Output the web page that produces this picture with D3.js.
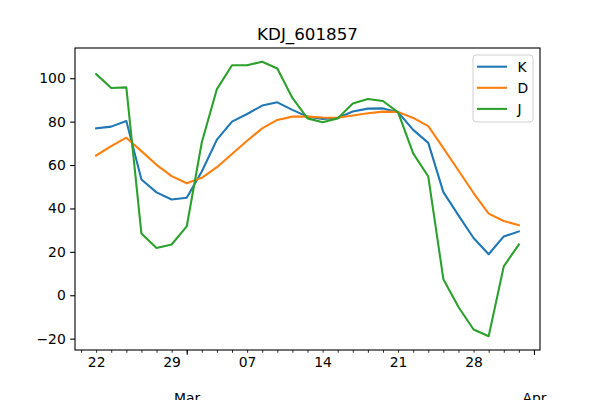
<!DOCTYPE html>
<html>
<head>
<meta charset="utf-8">
<script src="https://cdn.jsdelivr.net/npm/d3@7"></script>
<style>
  html, body { margin: 0; padding: 0; background: #fff; }
  svg { display: block; font-family: "DejaVu Sans", sans-serif; }
  .axis path, .axis line { stroke: #000; }
  .axis text { fill: #000; font-size: 13.9px; font-family: "DejaVu Sans", sans-serif; }
</style>
</head>
<body>
<div id="chart"></div>
<script>
// trading day index for each point
var days = d3.range(0, 29);

var kValues = [76.9, 77.7, 80.3, 53.3, 47.4, 44.1, 44.9, 57.0, 71.7, 80.0,
  83.5, 87.4, 88.9, 85.4, 82.3, 81.2, 81.7, 84.7, 86.0, 86.1,
  84.3, 76.2, 70.2, 47.5, 36.8, 26.4, 18.9, 27.1, 29.4];
var dValues = [64.4, 68.7, 72.6, 66.4, 60.1, 54.9, 51.6, 54.1, 59.0, 65.1,
  71.2, 76.9, 80.8, 82.3, 82.3, 81.9, 81.8, 82.8, 83.9, 84.6,
  84.5, 81.7, 77.9, 67.8, 57.5, 47.1, 37.6, 34.2, 32.3];
var jValues = [101.9, 95.5, 95.8, 28.4, 21.8, 23.4, 31.7, 70.5, 95.0, 106.0,
  106.0, 107.6, 104.5, 90.9, 81.5, 79.7, 81.5, 88.4, 90.4, 89.5,
  84.3, 65.4, 54.7, 7.4, -5.4, -15.8, -18.9, 13.3, 23.4];

var seriesNames = ['K', 'D', 'J'];

// day-of-month labels (minor ticks) and month labels (major ticks)
var dayTicks = [0, 5, 10, 15, 20, 25];
var dayLabels = ['22', '29', '07', '14', '21', '28'];
var monthTicks = [6, 29];
var monthLabels = ['Mar', 'Apr'];

var yTicks = [-20, 0, 20, 40, 60, 80, 100];

var title = 'KDJ_601857';

var width = 600, height = 400;
var margin = {top: 48, right: 60, bottom: 50, left: 75};
var colors = ['#1f77b4', '#ff7f0e', '#2ca02c'];
var seriesValues = [kValues, dValues, jValues];

var svg = d3.select('#chart').append('svg')
  .attr('width', width)
  .attr('height', height);

// matplotlib style 5% margins on both axes
var xMin = d3.min(days), xMax = d3.max(days);
var xPad = (xMax - xMin) * 0.05;
var allVals = kValues.concat(dValues, jValues);
var yMin = d3.min(allVals), yMax = d3.max(allVals);
var yPad = (yMax - yMin) * 0.05;

var x = d3.scaleLinear()
  .domain([xMin - xPad, xMax + xPad])
  .range([margin.left, width - margin.right]);
var y = d3.scaleLinear()
  .domain([yMin - yPad, yMax + yPad])
  .range([height - margin.bottom, margin.top]);

var plotBottom = height - margin.bottom;

// lines
var line = d3.line()
  .x(function (d, i) { return x(days[i]); })
  .y(function (d) { return y(d); });

seriesValues.forEach(function (vals, k) {
  svg.append('path')
    .datum(vals)
    .attr('fill', 'none')
    .attr('stroke', colors[k])
    .attr('stroke-width', 2.08)
    .attr('stroke-linejoin', 'round')
    .attr('stroke-linecap', 'square')
    .attr('d', line);
});

// y axis
var yAxis = svg.append('g')
  .attr('class', 'axis')
  .attr('transform', 'translate(' + margin.left + ',0)')
  .call(d3.axisLeft(y).tickValues(yTicks).tickSize(4.86).tickPadding(4.4).tickSizeOuter(0));
yAxis.select('.domain').remove();
yAxis.selectAll('line').attr('stroke-width', 1.1);

// minor x ticks, one per trading day, some with day labels
var minorTicks = d3.range(-1, 29);
var xMinor = svg.append('g')
  .attr('class', 'axis')
  .attr('transform', 'translate(0,' + plotBottom + ')')
  .call(d3.axisBottom(x).tickValues(minorTicks).tickSize(2.78).tickPadding(4.7)
    .tickFormat(function (d) {
      var idx = dayTicks.indexOf(d);
      return idx >= 0 ? dayLabels[idx] : '';
    }));
xMinor.select('.domain').remove();
xMinor.selectAll('line').attr('stroke-width', 0.83);
xMinor.selectAll('text').attr('dy', '0.71em');

// month ticks, labels pushed two lines down (partly off the bottom, as in the source)
var xMajor = svg.append('g')
  .attr('class', 'axis')
  .attr('transform', 'translate(0,' + plotBottom + ')')
  .call(d3.axisBottom(x).tickValues(monthTicks).tickSize(4.86).tickPadding(38.4)
    .tickFormat(function (d, i) { return monthLabels[i]; }));
xMajor.select('.domain').remove();
xMajor.selectAll('line').attr('stroke-width', 1.1);
xMajor.selectAll('text').attr('dy', '0.71em');

// frame
svg.append('rect')
  .attr('x', margin.left)
  .attr('y', margin.top)
  .attr('width', width - margin.left - margin.right)
  .attr('height', plotBottom - margin.top)
  .attr('fill', 'none')
  .attr('stroke', '#000')
  .attr('stroke-width', 1.1);

// title
svg.append('text')
  .attr('x', (margin.left + width - margin.right) / 2)
  .attr('y', 40)
  .attr('text-anchor', 'middle')
  .style('font-size', '16.7px')
  .text(title);

// legend
var legend = svg.append('g').attr('transform', 'translate(473,55)');
legend.append('rect')
  .attr('width', 60)
  .attr('height', 67)
  .attr('rx', 3)
  .attr('fill', '#fff')
  .attr('fill-opacity', 0.8)
  .attr('stroke', '#d0d0d0')
  .attr('stroke-width', 1);

seriesNames.forEach(function (name, k) {
  var ly = 11.7 + k * 21.1;
  legend.append('line')
    .attr('x1', 4).attr('x2', 34)
    .attr('y1', ly).attr('y2', ly)
    .attr('stroke', colors[k])
    .attr('stroke-width', 2.08);
  legend.append('text')
    .attr('x', 44.5)
    .attr('y', ly)
    .attr('dy', '0.36em')
    .style('font-size', '13.9px')
    .text(name);
});
</script>
</body>
</html>
